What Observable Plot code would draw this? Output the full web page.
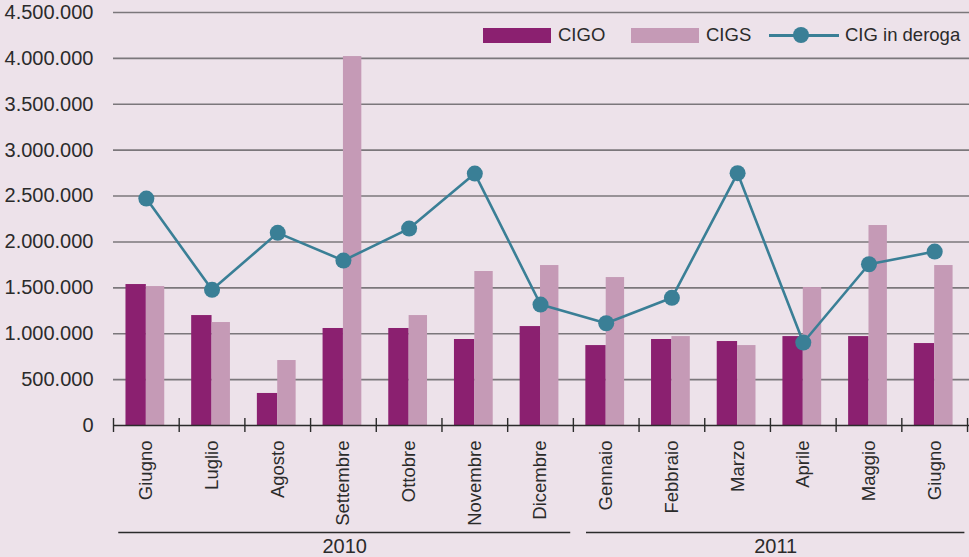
<!DOCTYPE html>
<html>
<head>
<meta charset="utf-8">
<script src="https://cdn.jsdelivr.net/npm/d3@7"></script>
<script src="https://cdn.jsdelivr.net/npm/@observablehq/plot@0.6"></script>
<style>
  html, body { margin: 0; padding: 0; background: #ede2ea; }
  #wrap { position: relative; width: 969px; height: 557px; font-family: "Liberation Sans", Arial, sans-serif; color: #2b2b2b; }
  #legend { position: absolute; left: 0; top: 0; width: 969px; height: 60px; pointer-events: none; }
  .item { position: absolute; top: 24px; height: 22px; display: flex; align-items: center; font-size: 18.5px; }
  .sw { width: 68px; height: 15px; margin-right: 7px; }
  .ln { position: relative; width: 70px; height: 15px; margin-right: 6px; }
  .ln .bar { position: absolute; left: 0; right: 0; top: 6px; height: 3px; background: #3a7f96; }
  .ln .dot { position: absolute; left: 24px; top: -0.5px; width: 16px; height: 16px; border-radius: 50%; background: #3a7f96; }
</style>
</head>
<body>
<div id="wrap"><div id="legend"></div></div>
<script>
const months = ["Giugno","Luglio","Agosto","Settembre","Ottobre","Novembre","Dicembre",
                "Gennaio","Febbraio","Marzo","Aprile","Maggio","Giugno"];
const cigo   = [1536000,1198000, 349000,1057000,1057000, 937000,1078000,
                 871000, 937000, 915000, 969000, 969000, 893000];
const cigs   = [1514000,1122000, 708000,4020000,1198000,1678000,1743000,
                1612000, 969000, 871000,1503000,2179000,1743000];
const deroga = [2473000,1478000,2099000,1797000,2146000,2745000,1318000,
                1114000,1391000,2749000, 904000,1757000,1895000];
const yTicks = [0,500000,1000000,1500000,2000000,2500000,3000000,3500000,4000000,4500000];
const seriesNames = ["CIGO","CIGS","CIG in deroga"];
const years = ["2010","2011"];
const yearFirstMonth = [0, 7];
const yearLastMonth = [6, 12];

const colors = {CIGO: "#8b2070", CIGS: "#c59ab6", deroga: "#3a7f96"};

const rows = months.map((m, i) => ({i, month: m, cigo: cigo[i], cigs: cigs[i], deroga: deroga[i]}));
const boundaries = d3.range(months.length + 1).map(k => k - 0.5);
const yearRows = years.map((y, k) => ({year: y, first: yearFirstMonth[k], last: yearLastMonth[k]}));
const fmt = v => d3.format(",")(v).replace(/,/g, ".");
const tickHalf = 76000;
const yStart = d => d.first - (d.first === 0 ? 0.42 : 0.3);
const yEnd = d => d.last + 0.46;

const chart = Plot.plot({
  width: 969,
  height: 557,
  marginLeft: 113,
  marginRight: 0,
  marginTop: 12,
  marginBottom: 132,
  style: {background: "transparent", fontFamily: "'Liberation Sans', Arial, sans-serif", fontSize: "18px", color: "#2b2b2b", overflow: "visible"},
  x: {type: "linear", domain: [-0.5, 12.53], axis: null},
  y: {domain: [0, 4500000], axis: null},
  marks: [
    Plot.ruleY(yTicks.slice(1), {stroke: "#7b777b", strokeWidth: 1.6}),
    Plot.rectY(rows, {x1: d => d.i - 0.31, x2: d => d.i, y: "cigo", fill: colors.CIGO}),
    Plot.rectY(rows, {x1: d => d.i, x2: d => d.i + 0.28, y: "cigs", fill: colors.CIGS}),
    Plot.ruleY([0], {stroke: "#2b2b2b", strokeWidth: 1.6}),
    Plot.ruleX(boundaries, {x: d => d, y1: -tickHalf, y2: tickHalf, stroke: "#2b2b2b", strokeWidth: 1.4}),
    Plot.line(rows, {x: "i", y: "deroga", stroke: colors.deroga, strokeWidth: 2.6}),
    Plot.dot(rows, {x: "i", y: "deroga", r: 8, fill: colors.deroga, stroke: "none"}),
    Plot.text(yTicks, {x: -0.5, y: d => d, text: d => fmt(d), textAnchor: "end", dx: -20, fontSize: 20, fill: "#2b2b2b"}),
    Plot.text(rows, {x: "i", y: 0, text: "month", rotate: -90, textAnchor: "end", dy: 15, fontSize: 18.5, fill: "#2b2b2b"}),
    Plot.ruleY(yearRows, {y: 0, x1: yStart, x2: yEnd, dy: 107, stroke: "#2b2b2b", strokeWidth: 1.4}),
    Plot.text(yearRows, {x: d => (yStart(d) + yEnd(d)) / 2, y: 0, text: "year", dy: 121, fontSize: 20, fill: "#2b2b2b"})
  ]
});
document.getElementById("wrap").prepend(chart);

// legend
const legend = document.getElementById("legend");
const lefts = [483, 631, 769];
seriesNames.forEach((name, k) => {
  const it = document.createElement("div");
  it.className = "item";
  it.style.left = lefts[k] + "px";
  if (k < 2) {
    const sw = document.createElement("div");
    sw.className = "sw";
    sw.style.background = k === 0 ? colors.CIGO : colors.CIGS;
    it.appendChild(sw);
  } else {
    const ln = document.createElement("div");
    ln.className = "ln";
    ln.innerHTML = '<div class="bar"></div><div class="dot"></div>';
    it.appendChild(ln);
  }
  const t = document.createElement("span");
  t.textContent = name;
  it.appendChild(t);
  legend.appendChild(it);
});
</script>
</body>
</html>
